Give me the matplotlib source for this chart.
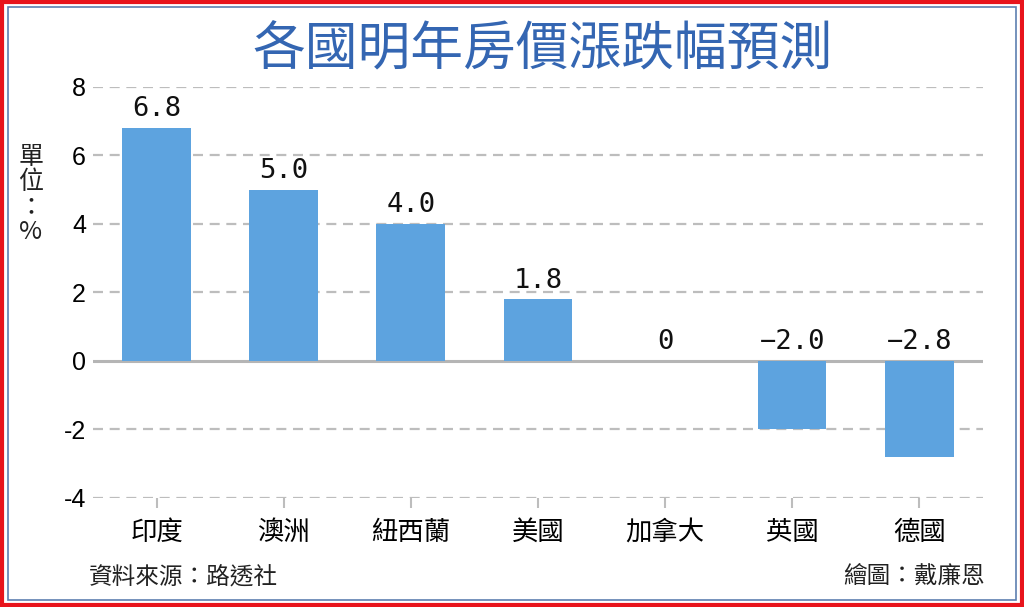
import numpy as np
import matplotlib.pyplot as plt
from matplotlib.patches import Rectangle

plt.rcParams['font.family'] = ['Noto Sans CJK TC', 'DejaVu Sans']

countries = ['印度', '澳洲', '紐西蘭', '美國', '加拿大', '英國', '德國']
values = [6.8, 5.0, 4.0, 1.8, 0.0, -2.0, -2.8]
labels = ['6.8', '5.0', '4.0', '1.8', '0', '\u22122.0', '\u22122.8']
yticks = [-4, -2, 0, 2, 4, 6, 8]

fig = plt.figure(figsize=(10.24, 6.07), dpi=100)
ax = fig.add_axes([0.0908, 0.1796, 0.869, 0.6771])

x = np.arange(len(countries))
ax.bar(x, values, width=0.54, color='#5da3df', zorder=3)

for yt in yticks:
    if yt == 0:
        ax.axhline(0, color='#b5b5b5', lw=2.2, zorder=2)
    else:
        ax.axhline(yt, color='#bdbdbd', lw=1.6, ls=(0, (4.5, 3)), zorder=1)

for xi, v, lab in zip(x, values, labels):
    ax.text(xi, max(v, 0) + 0.17, lab, ha='center', va='bottom',
            fontsize=19.5, family=['DejaVu Sans Mono'], color='#111111')

ax.set_xlim(-0.5, len(countries) - 0.5)
ax.set_ylim(-4, 8)
ax.set_yticks(yticks)
ax.set_yticklabels([str(t) for t in yticks], family=['Liberation Sans'], fontsize=18)
ax.set_xticks(x)
ax.set_xticklabels(countries, fontsize=19)
ax.tick_params(axis='y', length=0, pad=5)
ax.tick_params(axis='x', length=7, color='#bdbdbd', width=1.5, pad=8)
for s in ax.spines.values():
    s.set_visible(False)

fig.text(0.53, 0.918, '各國明年房價漲跌幅預測', ha='center', va='center',
         fontsize=38, color='#3466b2', fontweight='medium')
fig.text(0.03, 0.68, '單\n位\n：\n%', ha='center', va='center', fontsize=18,
         linespacing=0.95, color='#222222')
fig.text(0.087, 0.05, '資料來源：路透社', ha='left', va='center', fontsize=17, color='#222222')
fig.text(0.962, 0.05, '繪圖：戴廉恩', ha='right', va='center', fontsize=17, color='#222222')

fig.patches.append(Rectangle((0.002, 0.003), 0.996, 0.994, transform=fig.transFigure,
                             fill=False, edgecolor='#e8141c', lw=3))
fig.patches.append(Rectangle((0.008, 0.012), 0.984, 0.976, transform=fig.transFigure,
                             fill=False, edgecolor='#5d7fb0', lw=1.2))

fig.savefig('out.png', dpi=100)
